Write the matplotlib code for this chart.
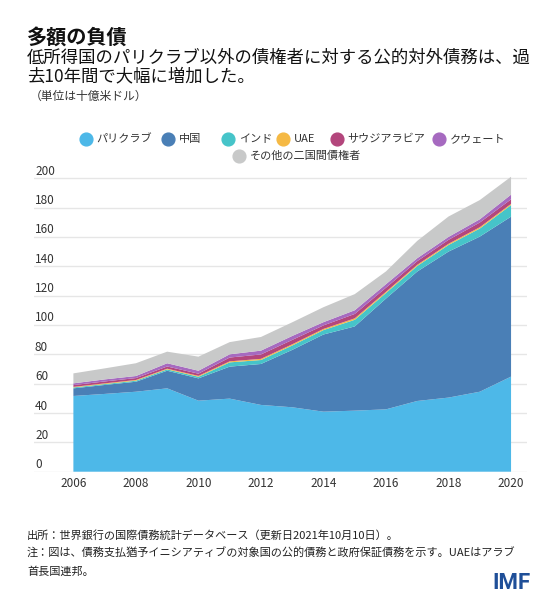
import numpy as np
import matplotlib
matplotlib.use("Agg")
import matplotlib.pyplot as plt
from matplotlib.lines import Line2D
from matplotlib.transforms import ScaledTranslation, blended_transform_factory

plt.rcParams['font.family'] = ['Noto Sans CJK JP', 'DejaVu Sans']

# data (billions of US dollars)
years = np.arange(2006, 2021)
paris_club = [51.6, 53.0, 54.5, 56.8, 48.4, 49.8, 45.5, 43.9, 40.9, 41.6, 42.5, 48.2, 50.5, 54.5, 64.8]
china = [5.2, 6.1, 6.8, 12.0, 15.2, 21.8, 27.9, 39.1, 52.6, 57.4, 75.5, 88.2, 99.5, 105.7, 109.0]
india = [0.6, 0.6, 0.7, 0.9, 1.1, 2.9, 2.7, 3.0, 3.0, 4.5, 3.8, 3.8, 4.5, 5.5, 7.9]
uae = [0.4, 0.5, 0.5, 0.5, 0.6, 0.7, 0.8, 0.8, 0.8, 1.0, 0.8, 0.8, 0.8, 0.9, 0.8]
saudi = [1.2, 1.3, 1.3, 1.5, 1.5, 2.6, 3.0, 3.0, 2.4, 3.0, 2.8, 2.5, 2.7, 3.2, 3.1]
kuwait = [1.2, 1.4, 1.4, 2.2, 2.0, 2.2, 2.6, 2.7, 2.2, 2.5, 2.4, 2.0, 2.0, 2.2, 3.2]
other = [6.8, 7.5, 8.7, 7.9, 9.6, 8.3, 9.3, 9.3, 10.2, 11.0, 8.7, 11.8, 13.9, 13.1, 12.2]

series_labels = ["パリクラブ", "中国", "インド", "UAE", "サウジアラビア", "クウェート", "その他の二国間債権者"]
colors = ["#4db8e8", "#4a7fb6", "#46c4c9", "#f5b944", "#b3467c", "#a66ac0", "#c8c9c9"]

y_ticks = np.arange(0, 201, 20)
x_ticks = np.arange(2006, 2021, 2)

W, H = 560, 599
fig = plt.figure(figsize=(W / 100, H / 100), dpi=100)

def fx(px):
    return px / W

def fy(py):
    return 1 - py / H

# plot area: x 34..527 px, y=0 at 471.7 px, 1.4675 px per unit
ax = fig.add_axes([fx(34), fy(471.7), fx(527) - fx(34), 210 * 1.4675 / H])
ax.stackplot(years, paris_club, china, india, uae, saudi, kuwait, other,
             colors=colors, linewidth=0)
ax.set_xlim(2004.74, 2020.51)
ax.set_ylim(0, 210)

for s in ax.spines.values():
    s.set_visible(False)
ax.set_axisbelow(True)
ax.set_yticks(y_ticks)
ax.grid(axis="y", color="#e6e6e6", linewidth=1.0)
ax.tick_params(axis="y", length=0, labelleft=False)
ax.set_xticks(x_ticks)
ax.set_xticklabels([str(y) for y in x_ticks])
ax.tick_params(axis="x", length=0, pad=3.5, labelsize=8.5, labelcolor="#333333")

# y labels sit just above their gridlines
trans = blended_transform_factory(ax.transAxes, ax.transData) + ScaledTranslation(0, 7 / 100, fig.dpi_scale_trans)
for v in y_ticks:
    ax.text(0.002, v, str(v), transform=trans, ha="left", va="center",
            fontsize=8.5, color="#333333")

# titles
fig.text(fx(27), fy(37), "多額の負債", fontsize=14.5, fontweight="bold", va="center", color="#111111")
fig.text(fx(27), fy(57.5), "低所得国のパリクラブ以外の債権者に対する公的対外債務は、過",
         fontsize=12.5, va="center", color="#111111")
fig.text(fx(27), fy(76), "去10年間で大幅に増加した。", fontsize=12.5, va="center", color="#111111")
fig.text(fx(30), fy(96), "（単位は十億米ドル）", fontsize=8.5, va="center", color="#333333")

# legend, two centred rows
legend_pos = [(85.7, 139.3), (168.3, 139.3), (228.3, 139.3), (283.3, 139.3),
              (336.7, 139.3), (439.3, 139.3), (239, 155.7)]
for (mx, my), lab, c in zip(legend_pos, series_labels, colors):
    fig.add_artist(Line2D([fx(mx)], [fy(my)], marker="o", markersize=9.2,
                          color=c, linestyle="none", transform=fig.transFigure))
    fig.text(fx(mx + 11), fy(my), lab, fontsize=8, va="center", color="#333333")

# notes
fig.text(fx(27), fy(535), "出所：世界銀行の国際債務統計データベース（更新日2021年10月10日）。",
         fontsize=8, va="center", color="#222222")
fig.text(fx(27), fy(553.5), "注：図は、債務支払猶予イニシアティブの対象国の公的債務と政府保証債務を示す。UAEはアラブ",
         fontsize=8, va="center", color="#222222")
fig.text(fx(27), fy(571.5), "首長国連邦。", fontsize=8, va="center", color="#222222")
fig.text(fx(531), fy(583), "IMF", fontsize=16, fontweight="bold", family="Roboto",
         ha="right", va="center", color="#1f4f98")

fig.savefig("out.png", dpi=100)
